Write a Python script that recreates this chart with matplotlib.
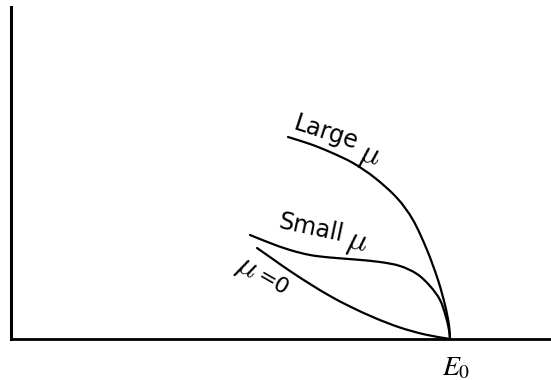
import matplotlib
matplotlib.use("Agg")
import matplotlib.pyplot as plt
import numpy as np
from matplotlib.path import Path
from matplotlib.patches import PathPatch

# Curve data (x in units of E0, y normalised to axis height)
large_x = [0.6314, 0.6815, 0.7270, 0.7793, 0.8294, 0.8794, 0.9158, 0.9477, 0.9727, 0.9886, 0.9977, 1.0]
large_y = [0.6084, 0.5873, 0.5633, 0.5301, 0.4849, 0.4247, 0.3584, 0.2681, 0.1777, 0.1024, 0.0422, 0.0]

small_x = [0.5449, 0.5904, 0.6359, 0.6815, 0.7270, 0.7838, 0.8407, 0.8862, 0.9249, 0.9545, 0.9773, 0.9909, 0.9977, 1.0]
small_y = [0.3133, 0.2892, 0.2681, 0.2530, 0.2455, 0.2395, 0.2319, 0.2199, 0.1958, 0.1596, 0.1175, 0.0663, 0.0271, 0.0]

zero_x = [0.5609, 0.5950, 0.6359, 0.6815, 0.7270, 0.7725, 0.8294, 0.8862, 0.9431, 1.0]
zero_y = [0.2741, 0.2425, 0.2048, 0.1657, 0.1295, 0.0979, 0.0633, 0.0346, 0.0136, 0.0]

words = ["Large", "Small", "=0"]
mu = "$\\mu$"
tick_label = "$E_0$"

W, H = 551, 380
fig = plt.figure(figsize=(W / 100, H / 100), dpi=100)
ax = fig.add_axes([10.5 / W, 41 / H, (W - 10.5) / W, 332 / H])
ax.set_xlim(0, (W - 10.5) / 439.5)
ax.set_ylim(0, 1)
for s in ["top", "right"]:
    ax.spines[s].set_visible(False)
ax.spines["left"].set_linewidth(2.2)
ax.spines["bottom"].set_linewidth(2.0)
ax.set_xticks([])
ax.set_yticks([])


def smooth_path(xs, ys):
    """Bezier path passing through the given points (Catmull-Rom tangents)."""
    p = np.column_stack([xs, ys])
    ext = np.vstack([p[0] - (p[1] - p[0]), p, p[-1] + (p[-1] - p[-2])])
    verts = [p[0]]
    codes = [Path.MOVETO]
    for i in range(1, len(ext) - 2):
        p0, p1, p2, p3 = ext[i - 1], ext[i], ext[i + 1], ext[i + 2]
        verts += [p1 + (p2 - p0) / 6, p2 - (p3 - p1) / 6, p2]
        codes += [Path.CURVE4] * 3
    return Path(verts, codes)


for xs, ys in [(large_x, large_y), (small_x, small_y), (zero_x, zero_y)]:
    ax.add_patch(PathPatch(smooth_path(xs, ys), fill=False, edgecolor="black",
                           lw=1.6, capstyle="round", joinstyle="round", clip_on=False))

tkw = dict(ha="center", va="center", family="DejaVu Sans", color="black")
mkw = dict(ha="center", va="center", math_fontfamily="cm", color="black")
ax.text(0.7179, 0.6205, words[0], rotation=-18, fontsize=17, **tkw)
ax.text(0.8157, 0.5512, mu, rotation=-14, fontsize=24, **mkw)
ax.text(0.6837, 0.3343, words[1], rotation=-12, fontsize=17, **tkw)
ax.text(0.7884, 0.2922, mu, rotation=-12, fontsize=24, **mkw)
ax.text(0.5381, 0.2139, mu, rotation=-30, fontsize=23, **mkw)
ax.text(0.5973, 0.1672, words[2], rotation=-30, fontsize=16, **tkw)
ax.text(1.0137, -0.0843, tick_label, ha="center", va="center", fontsize=20,
        math_fontfamily="stix", clip_on=False)

fig.savefig("out.png", dpi=100)
